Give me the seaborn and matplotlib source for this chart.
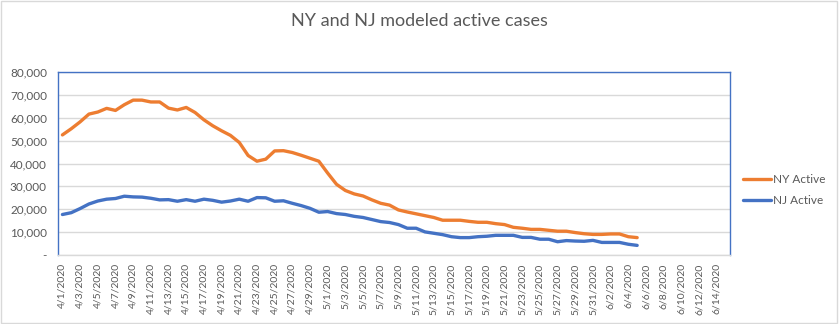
import matplotlib
matplotlib.use("Agg")
import matplotlib.pyplot as plt
import seaborn as sns
import pandas as pd
import numpy as np
from matplotlib.lines import Line2D

# Categories: every day 4/1/2020 .. 6/15/2020
dates = pd.date_range("2020-04-01", "2020-06-15", freq="D")
date_labels = [f"{d.month}/{d.day}/{d.year}" for d in dates]

ny_active = [52500, 55200, 58200, 61600, 62500, 64100, 63200, 65700, 67700, 67700,
             66900, 66900, 64200, 63400, 64500, 62300, 59100, 56500, 54300, 52300,
             49200, 43500, 41000, 41900, 45500, 45600, 44800, 43600, 42300, 41000,
             35800, 30900, 28200, 26700, 25800, 24100, 22600, 21800, 19700, 18800,
             18000, 17200, 16400, 15200, 15200, 15200, 14700, 14300, 14300, 13700,
             13300, 12100, 11700, 11200, 11200, 10800, 10400, 10400, 9800, 9300,
             9000, 9000, 9200, 9200, 8000, 7600]
nj_active = [17700, 18500, 20300, 22300, 23600, 24400, 24700, 25700, 25400, 25300,
             24800, 24100, 24200, 23500, 24200, 23500, 24400, 23900, 23100, 23600,
             24400, 23500, 25100, 25000, 23500, 23700, 22600, 21600, 20400, 18700,
             19000, 18100, 17700, 16900, 16400, 15500, 14600, 14200, 13300, 11700,
             11700, 10100, 9500, 8900, 8000, 7600, 7600, 8000, 8200, 8600,
             8600, 8600, 7700, 7700, 6900, 6900, 5800, 6300, 6100, 6000,
             6400, 5500, 5500, 5500, 4700, 4200]

series_names = ["NY Active", "NJ Active"]
colors = {"NY Active": "#ED7D31", "NJ Active": "#4472C4"}

df = pd.concat([
    pd.DataFrame({"idx": np.arange(len(ny_active)), "value": ny_active, "series": "NY Active"}),
    pd.DataFrame({"idx": np.arange(len(nj_active)), "value": nj_active, "series": "NJ Active"}),
])

sns.set_theme(style="white")
plt.rcParams["font.family"] = ["Lato", "DejaVu Sans"]

fig = plt.figure(figsize=(8.39, 3.24), dpi=100)
ax = fig.add_axes([58/839, 1 - 255/324, (730-58)/839, (255-72)/324])

sns.lineplot(data=df, x="idx", y="value", hue="series", hue_order=series_names,
             palette=colors, linewidth=2.4, ax=ax, legend=False)

ax.set_xlim(-0.5, len(dates) - 0.5)
ax.set_ylim(0, 80000)
ax.set_yticks(np.arange(0, 80001, 10000))
ax.set_yticklabels(["-"] + [f"{v:,}" for v in range(10000, 80001, 10000)],
                   fontsize=8.5, color="#595959")
ax.set_xticks(np.arange(0, len(dates), 2))
ax.set_xticklabels(date_labels[::2], rotation=90, fontsize=7.5, color="#595959")
ax.tick_params(axis="x", length=0, pad=6)
ax.tick_params(axis="y", length=0, pad=8)
ax.grid(axis="y", color="#d9d9d9", linewidth=1)
ax.set_axisbelow(True)
ax.set_xlabel("")
ax.set_ylabel("")
for s in ["left", "top", "right"]:
    ax.spines[s].set_color("#4472C4")
    ax.spines[s].set_linewidth(1)
ax.spines["bottom"].set_color("#d9d9d9")
ax.spines["bottom"].set_linewidth(1)

fig.text(0.5, 1 - 21/324, "NY and NJ modeled active cases", ha="center", va="center",
         fontsize=13, color="#595959")

# legend
handles = [Line2D([0], [0], color=colors[n], linewidth=2.4) for n in series_names]
fig.legend(handles, series_names, loc="center left", bbox_to_anchor=(743/839, 1 - 190/324),
           frameon=False, fontsize=8.5, labelcolor="#595959", handlelength=2.4,
           handletextpad=0.15, labelspacing=0.9, borderaxespad=0, borderpad=0)

# outer border
fig.patches.append(plt.Rectangle((0.001, 0.002), 0.997, 0.995, transform=fig.transFigure,
                                 fill=False, edgecolor="#d9d9d9", linewidth=1))

fig.savefig("out.png", dpi=100)
